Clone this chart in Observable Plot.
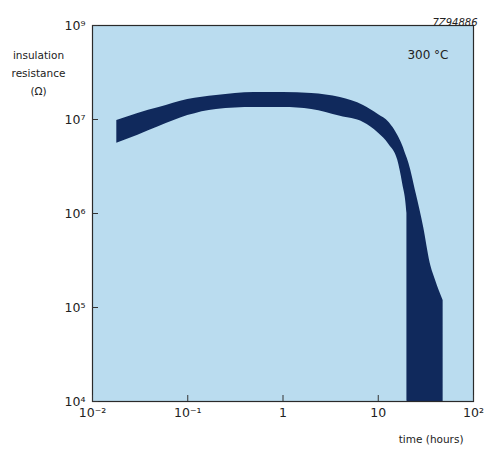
<!DOCTYPE html>
<html>
<head>
<meta charset="utf-8">
<script src="https://cdn.jsdelivr.net/npm/d3@7"></script>
<script src="https://cdn.jsdelivr.net/npm/@observablehq/plot@0.6"></script>
<style>
  html, body { margin: 0; padding: 0; background: #fff; }
  #chart svg { display: block; }
</style>
</head>
<body>
<div id="chart"></div>
<script>
// time (hours) at which the band edges were read
const hours = [0.018, 0.03, 0.05, 0.1, 0.2, 0.5, 1, 2, 4, 7, 10, 13, 16, 18, 20, 20.2, 21, 25, 30, 35, 40, 48];
// upper edge of the band (Ω)
const upper = [9.75e6, 1.16e7, 1.34e7, 1.63e7, 1.80e7, 1.94e7, 1.94e7, 1.89e7, 1.71e7, 1.41e7, 1.13e7, 9.3e6, 6.8e6, 5.3e6, 3.95e6, 3.85e6, 3.4e6, 1.63e6, 7.1e5, 3.0e5, 1.94e5, 1.19e5];
// lower edge of the band (Ω)
const lower = [5.6e6, 6.8e6, 8.4e6, 1.10e7, 1.28e7, 1.34e7, 1.34e7, 1.28e7, 1.08e7, 9.3e6, 7.2e6, 5.4e6, 3.7e6, 2.1e6, 1.0e6, 1e4, 1e4, 1e4, 1e4, 1e4, 1e4, 1e4];

const xTicks = [0.01, 0.1, 1, 10, 100];
const xTickLabels = ["10\u207B\u00B2", "10\u207B\u00B9", "1", "10", "10\u00B2"];
const yTicks = [1e4, 1e5, 1e6, 1e7, 1e8];
const yTickLabels = ["10\u2074", "10\u2075", "10\u2076", "10\u2077", "10\u2079"];

const band = hours.map((h, i) => ({ t: h, lo: lower[i], hi: upper[i] }));
const xLab = xTicks.map((v, i) => ({ v, s: xTickLabels[i] }));
const yLab = yTicks.map((v, i) => ({ v, s: yTickLabels[i] }));

const chart = Plot.plot({
  width: 484,
  height: 449,
  marginLeft: 92,
  marginRight: 11,
  marginTop: 25,
  marginBottom: 48,
  style: { fontFamily: "'DejaVu Sans', sans-serif", fontSize: "11px", color: "#222", background: "#fff" },
  x: { type: "log", domain: [0.01, 100], axis: null },
  y: { type: "log", domain: [1e4, 1e8], axis: null },
  marks: [
    Plot.frame({ fill: "#badcef", stroke: "none" }),
    Plot.areaY(band, { x: "t", y1: "lo", y2: "hi", fill: "#10295c", curve: "monotone-x" }),
    Plot.frame({ stroke: "#2a2a2a", strokeWidth: 1.2 }),
    Plot.axisX({ ticks: xTicks, tickSize: -6, tickFormat: () => "", stroke: "#333", label: null }),
    Plot.axisY({ ticks: yTicks, tickSize: -6, tickFormat: () => "", stroke: "#333", label: null }),
    Plot.text(xLab, { x: "v", text: "s", frameAnchor: "bottom", dy: 15, fontSize: 12.5, fill: "#222" }),
    Plot.text(yLab, { y: "v", text: "s", frameAnchor: "left", dx: -7, textAnchor: "end", fontSize: 12.5, fill: "#222" }),
    Plot.text(["time (hours)"], { frameAnchor: "bottom-right", dx: -10, dy: 41, textAnchor: "end", fontSize: 10.5 }),
    Plot.text(["insulation\nresistance\n(\u03A9)"], { frameAnchor: "top-left", dx: -54, dy: 21, textAnchor: "middle", lineAnchor: "top", lineHeight: 1.7, fontSize: 10.5 }),
    Plot.text(["7Z94886"], { frameAnchor: "top-right", dx: 4, dy: -7, textAnchor: "end", fontSize: 10, fontStyle: "italic" }),
    Plot.text(["300 \u00B0C"], { frameAnchor: "top-right", dx: -25, dy: 25, textAnchor: "end", fontSize: 12 })
  ]
});
document.getElementById("chart").append(chart);
</script>
</body>
</html>
